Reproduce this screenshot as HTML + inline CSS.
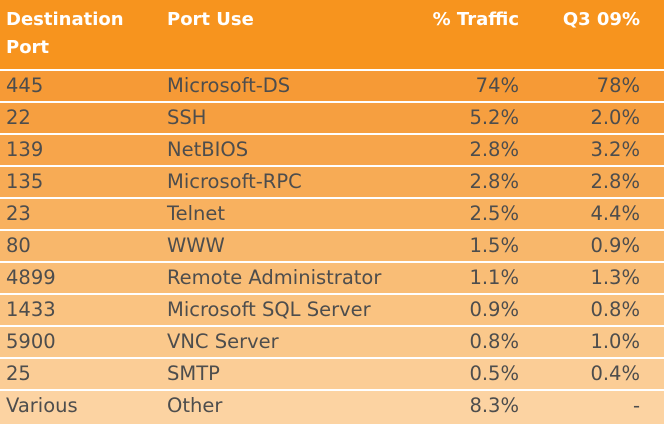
<!DOCTYPE html>
<html><head><meta charset="utf-8"><style>
body{margin:0;width:664px;height:422px;overflow:hidden;background:#fff;font-family:"DejaVu Sans","Liberation Sans",sans-serif;}
.t{position:relative;width:664px;height:422px;}
.hd{position:absolute;left:0;top:0;width:664px;height:69px;background:#f7941e;color:#fff;font-weight:bold;font-size:18px;}
.hd div{position:absolute;line-height:28px;}
.r{position:absolute;left:0;width:664px;height:30px;color:#4d4d4d;font-size:19.5px;line-height:30px;}
.r div{position:absolute;top:0;}
.c1{left:6px}.c2{left:167px}.c3{right:145px;text-align:right}.c4{right:24px;text-align:right}
</style></head><body>
<div class="t">
<div class="hd">
<div style="left:6px;top:6px">Destination<br>Port</div>
<div style="left:167px;top:6px">Port Use</div>
<div style="right:145px;top:6px">% Traffic</div>
<div style="right:24px;top:6px">Q3 09%</div>
</div>
<div id="rows"></div>
</div>
<script>
const ports=["445","22","139","135","23","80","4899","1433","5900","25","Various"];
const uses=["Microsoft-DS","SSH","NetBIOS","Microsoft-RPC","Telnet","WWW","Remote Administrator","Microsoft SQL Server","VNC Server","SMTP","Other"];
const traffic=["74%","5.2%","2.8%","2.8%","2.5%","1.5%","1.1%","0.9%","0.8%","0.5%","8.3%"];
const q3=["78%","2.0%","3.2%","2.8%","4.4%","0.9%","1.3%","0.8%","1.0%","0.4%","-"];
const colors=["#f69a36","#f69f40","#f7a54b","#f7ab55","#f8b15f","#f8b76b","#f9bd76","#fac381","#fac88b","#fbcd96","#fcd3a2"];
const host=document.getElementById('rows');
ports.forEach((p,i)=>{
  const r=document.createElement('div');
  r.className='r';
  
  
  r.style.top=(71+i*32)+'px';
  r.style.height=(i==10?33:30)+'px';
  r.style.background=colors[i];
  const vals=[p,uses[i],traffic[i],q3[i]];
  const names=['port-cell','use-cell','traffic-cell','q3-cell'];
  vals.forEach((v,j)=>{
    const c=document.createElement('div');
    c.className='c'+(j+1);
    
    
    c.textContent=v;
    r.appendChild(c);
  });
  host.appendChild(r);
});
</script>
</body></html>
